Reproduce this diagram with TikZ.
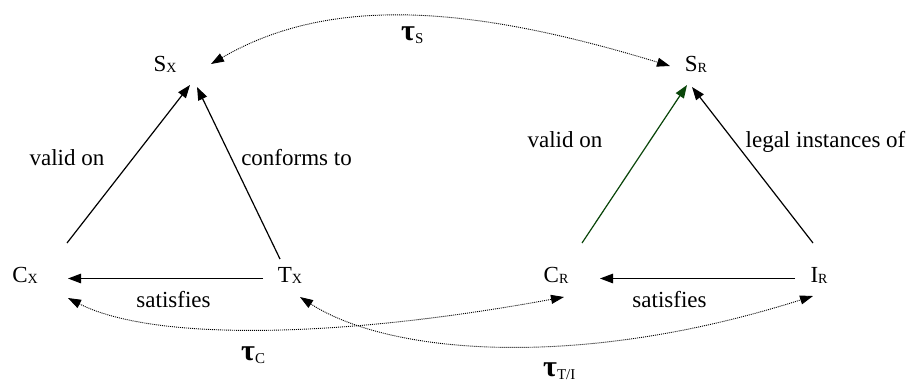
\documentclass[tikz,border=0pt]{standalone}
\usepackage{fontspec}
\setmainfont{Liberation Serif}
\usetikzlibrary{arrows.meta}
\newcommand{\mysub}[1]{\raisebox{-1.5pt}{\fontsize{14}{15}\selectfont #1}}
\newcommand{\tausub}[1]{\raisebox{-3pt}{\fontsize{15}{16}\selectfont #1}}
\newcommand{\tausym}{{\fontsize{30}{31}\selectfont\bfseries τ}}
\definecolor{dkgreen}{RGB}{10,70,10}
\tikzset{
  lab/.style={font=\fontsize{23}{26}\selectfont, inner sep=0pt, anchor=base},
  tlab/.style={inner sep=0pt, anchor=base west},
  solidarr/.style={line width=1.2pt, -{Triangle[length=13pt,width=9.5pt]}},
  dotarr/.style={line width=0.9pt, dash pattern=on 1pt off 1pt, {Triangle[length=13pt,width=9pt]}-{Triangle[length=13pt,width=9pt]}},
}
\begin{document}
\begin{tikzpicture}[x=1pt,y=-1pt]
\useasboundingbox[fill=white] (0,0) rectangle (912,381);
% main nodes
\node[lab] (Sx) at (165,71) {S\mysub{X}};
\node[lab] (Sr) at (696,71) {S\mysub{R}};
\node[lab] (Cx) at (25,282) {C\mysub{X}};
\node[lab] (Tx) at (290,282) {T\mysub{X}};
\node[lab] (Cr) at (556,282) {C\mysub{R}};
\node[lab] (Ir) at (819,282) {I\mysub{R}};
% edge labels
\node[lab] (lvalid) at (67,165) {valid on};
\node[lab] (lconf) at (296.5,165) {conforms to};
\node[lab] (rvalid) at (565,147) {valid on};
\node[lab] (rlegal) at (825.5,147) {legal instances of};
\node[lab] (lsat) at (173.5,307) {satisfies};
\node[lab] (rsat) at (669.5,307) {satisfies};
% tau labels
\node[tlab] (tauS) at (401,40) {\tausym\tausub{S}};
\node[tlab] (tauC) at (241,360) {\tausym\tausub{C}};
\node[tlab] (tauTI) at (543,376) {\tausym\tausub{T/I}};
% connector end points
\coordinate (CxUp) at (67,243);
\coordinate (SxInL) at (190,85);
\coordinate (TxUp) at (280,259);
\coordinate (SxInR) at (197,87);
\coordinate (CrUp) at (582,243);
\coordinate (SrInL) at (687,85);
\coordinate (IrUp) at (813,243);
\coordinate (SrInR) at (692,87);
\coordinate (TxW) at (263,278.5);
\coordinate (CxE) at (68,278.5);
\coordinate (IrW) at (795,278.5);
\coordinate (CrE) at (600,278.5);
\coordinate (SxNE) at (211,64);
\coordinate (SrW) at (670,66);
\coordinate (CxSE) at (68,298);
\coordinate (CrSW) at (564,297);
\coordinate (TxSE) at (300,297);
\coordinate (IrSW) at (813,296);
% solid connectors
\draw[solidarr] (CxUp) -- (SxInL);
\draw[solidarr] (TxUp) -- (SxInR);
\draw[solidarr, draw=dkgreen, fill=dkgreen] (CrUp) -- (SrInL);
\draw[solidarr] (IrUp) -- (SrInR);
\draw[solidarr] (TxW) -- (CxE);
\draw[solidarr] (IrW) -- (CrE);
% dotted transformations
\draw[dotarr] (SxNE) .. controls (330,-5) and (470,5) .. (SrW);
\draw[dotarr] (CxSE) .. controls (150,340) and (330,340) .. (CrSW);
\draw[dotarr] (TxSE) .. controls (390,355) and (580,370) .. (IrSW);
\end{tikzpicture}
\end{document}
